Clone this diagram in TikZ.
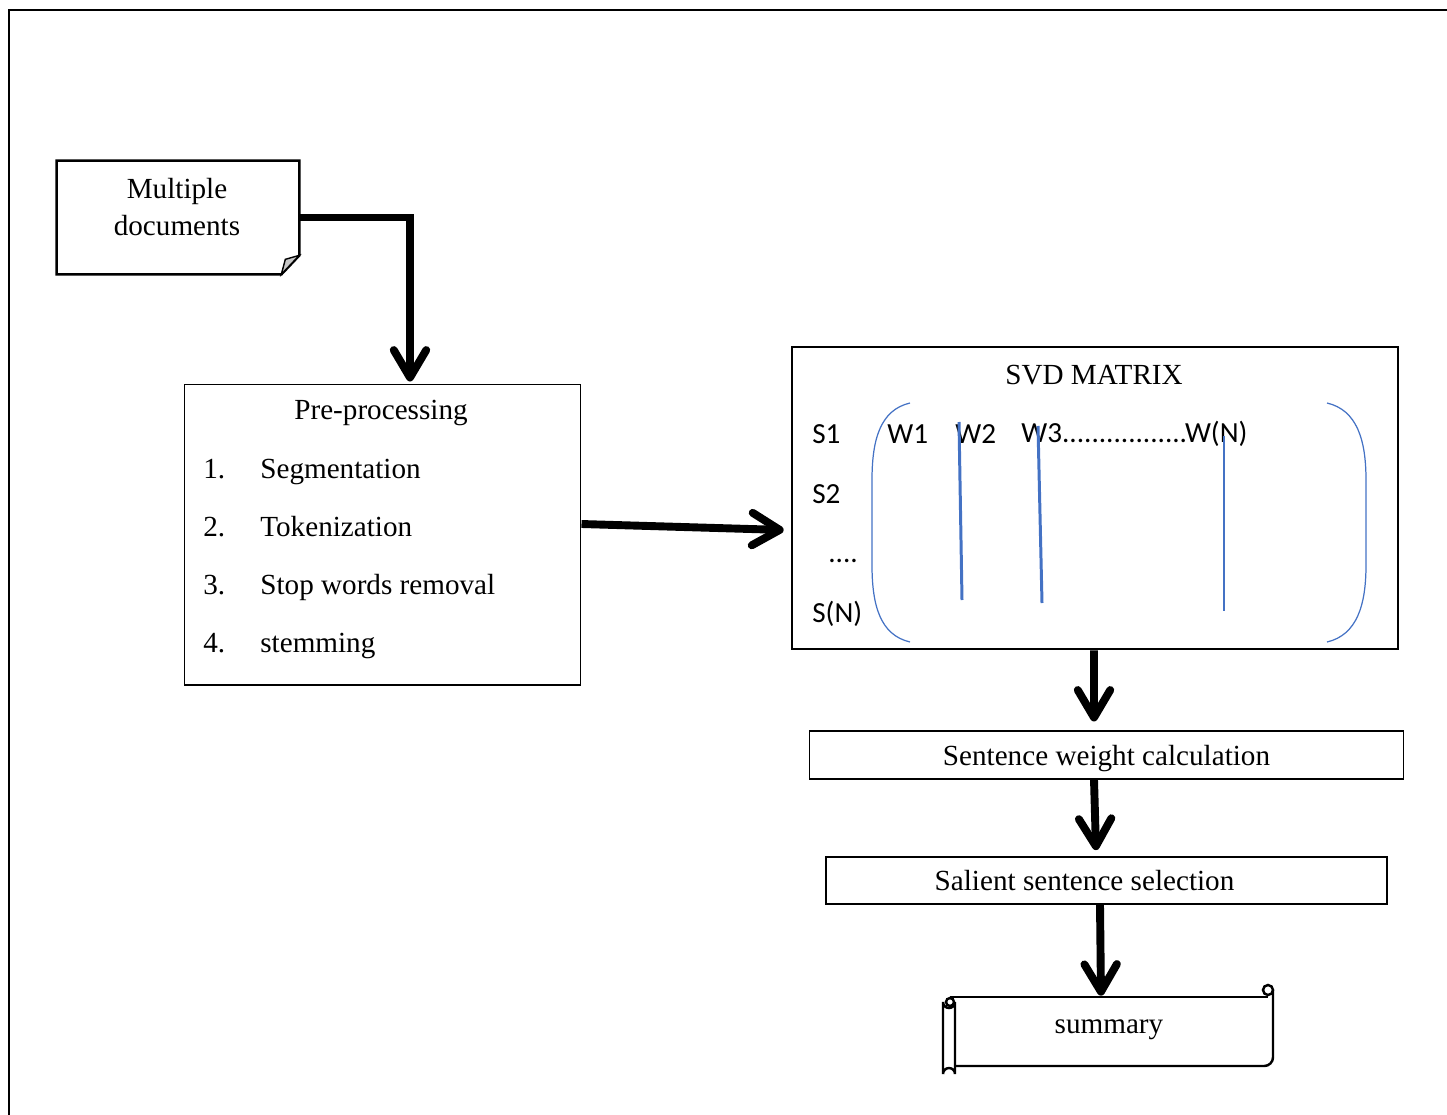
\documentclass[tikz,border=0pt]{standalone}
\usepackage{fontspec}
\setmainfont{Liberation Serif}
\newfontfamily\calib{Carlito}
\usepackage{tikz}
\usetikzlibrary{arrows.meta}
\definecolor{matblue}{RGB}{68,114,196}
\tikzstyle{txt}=[inner sep=0pt, font=\fontsize{16.6}{21.5}\selectfont]
\tikzstyle{lbl}=[inner sep=0pt, anchor=west, font=\calib\fontsize{16.6}{19}\selectfont]
\tikzstyle{thinbox}=[draw, line width=.6pt, inner sep=0pt, text depth=0pt, font=\fontsize{16.6}{21.5}\selectfont]
\tikzstyle{thickbox}=[draw, line width=1.6pt, inner sep=0pt]
\tikzstyle{flow}=[line width=4.5pt, -{Straight Barb[length=5.5mm, width=6.5mm, round]}]

\begin{document}
\begin{tikzpicture}[x=0.02cm, y=-0.02cm]
    \useasboundingbox (0,0) rectangle (1447,1115);
    \draw[line width=1.7pt] (9,1115) -- (9,10) -- (1447,10);

    % documents
    \node[minimum width=4.84cm, minimum height=2.26cm] (docs) at (178,217.5) {};
    \node[txt, align=center] (docstxt) at (177,207) {Multiple\\documents};
    \draw[line width=1.5pt] (docs.north west) -- (docs.north east) -- ([yshift=3.8mm]docs.south east)
      -- ([xshift=-3.6mm]docs.south east) -- (docs.south west) -- cycle;
    \draw[line width=.8pt, fill=gray!45] ([xshift=-3.6mm]docs.south east) -- ([xshift=-2.8mm, yshift=3mm]docs.south east)
      -- ([yshift=3.8mm]docs.south east) -- cycle;

    % pre-processing
    \node[thinbox, minimum width=7.94cm, minimum height=6.02cm] (pre) at (382.5,534.5) {};
    \node[txt, anchor=base] (ptitle) at (381,419) {Pre-processing};
    \foreach \i/\y/\t in {1/478/Segmentation, 2/536/Tokenization, 3/594/Stop words removal, 4/652/stemming} {
      \node[txt, anchor=base west] (n\i) at (203,\y) {\i.};
      \node[txt, anchor=base west] (t\i) at (260,\y) {\t};
    }

    % svd matrix
    \node[thickbox, minimum width=12.12cm, minimum height=6.04cm] (svd) at (1095,498) {};
    \node[txt] (stitle) at (1094,375) {SVD MATRIX};
    \node[lbl] (s1) at (812,434) {S1};
    \node[lbl] (s2) at (812,494) {S2};
    \node[lbl] (sd) at (828,561) {....};
    \node[lbl] (sn) at (812,614) {S(N)};
    \node[lbl] (w1) at (887,434) {W1};
    \node[lbl] (w2) at (955,434) {W2};
    \node[lbl] (w3) at (1021,434) {W3.................W(N)};
    \draw[matblue, line width=.7pt] (910,403) .. controls (880,410) and (872,440) .. (872,480) -- (872,565)
      .. controls (872,605) and (880,635) .. (910,642);
    \draw[matblue, line width=.7pt] (1327,403) .. controls (1357,410) and (1366,440) .. (1366,480) -- (1366,565)
      .. controls (1366,605) and (1357,635) .. (1327,642);
    \draw[matblue, line width=1.7pt] (959,422) -- (962,600);
    \draw[matblue, line width=1.7pt] (1038,426) -- (1042,603);
    \draw[matblue, line width=.6pt] (1224,436) -- (1224,611);

    % later steps
    \node[thinbox, minimum width=11.9cm, minimum height=.96cm] (weight) at (1106.5,755) {Sentence weight calculation};
    \node[thinbox, line width=1pt, minimum width=11.22cm, minimum height=.94cm] (select) at (1106.5,880.5)
      {Salient sentence selection\hspace*{8.8mm}};
    \node[txt, text depth=0pt, minimum width=6.56cm, minimum height=1.24cm] (summ) at (1109,1027) {summary};

    % scroll outline
    \draw[line width=1.4pt, line join=round] (950,997) -- (1268,997);
    \draw[line width=1.4pt] (1268,990) circle (5);
    \draw[line width=1.4pt, rounded corners=5] (1273,990) -- (1273,1066) -- (955,1066);
    \draw[line width=1.4pt, fill=white] (955,1002) -- (955,1074) arc (0:-180:6) -- (943,1002) arc (180:0:6);
    \draw[line width=1.4pt] (950,1002) circle (4);

    % arrows
    \draw[flow] (docs.east) -| ([xshift=5.5mm, yshift=.4mm]pre.north);
    \draw[flow] ([yshift=2.1mm]pre.east) -- ([xshift=-1.4mm, yshift=-6.4mm]svd.west);
    \draw[flow] ([xshift=-.2mm]svd.south) -- ([xshift=-2.5mm, yshift=1.8mm]weight.north);
    \draw[flow] ([xshift=-2.5mm]weight.south) -- ([xshift=-2.1mm, yshift=1.2mm]select.north);
    \draw[flow] ([xshift=-1.3mm]select.south) -- ([xshift=-1.6mm]summ.north);
\end{tikzpicture}
\end{document}
